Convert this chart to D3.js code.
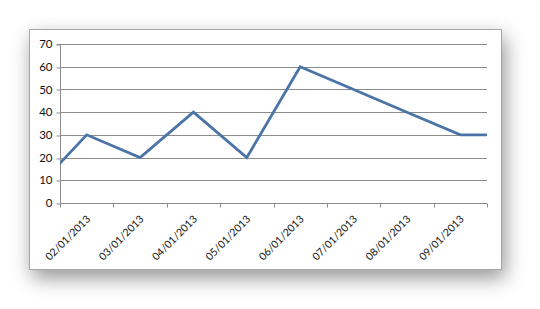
<!DOCTYPE html>
<html><head><meta charset="utf-8">
<script src="https://cdn.jsdelivr.net/npm/d3@7"></script>
<style>html,body{margin:0;padding:0;background:#fff;}svg{display:block;}</style>
</head><body>
<svg id="c" width="540" height="309"></svg>
<script>
// Data (monthly dates; first/last points lie just outside the plotted range and are clipped)
const dates = ["01/01/2013","02/01/2013","03/01/2013","04/01/2013","05/01/2013","06/01/2013","07/01/2013","08/01/2013","09/01/2013","10/01/2013"];
const values = [5, 30, 20, 40, 20, 60, 50, 40, 30, 30];
const tickLabels = ["02/01/2013","03/01/2013","04/01/2013","05/01/2013","06/01/2013","07/01/2013","08/01/2013","09/01/2013"];
const yTicks = [0,10,20,30,40,50,60,70];

const svg = d3.select("#c");
const box = {x:29.5, y:29.5, w:472, h:240};
const plot = {l:60, r:487, t:44, b:203};

const defs = svg.append("defs");
const f = defs.append("filter").attr("id","sh").attr("x","-20%").attr("y","-25%").attr("width","140%").attr("height","160%");
f.append("feDropShadow").attr("dx",3).attr("dy",8).attr("stdDeviation",10).attr("flood-color","#000").attr("flood-opacity",0.42);
defs.append("clipPath").attr("id","pc").append("rect")
  .attr("x",plot.l).attr("y",plot.t-5).attr("width",plot.r-plot.l).attr("height",plot.b-plot.t+10);

svg.append("rect").attr("x",box.x).attr("y",box.y).attr("width",box.w).attr("height",box.h)
  .attr("fill","#fff").attr("stroke","#a6a6a6").attr("stroke-width",1).attr("filter","url(#sh)");

const parse = d3.timeParse("%m/%d/%Y");
// month index: each label centred in its month slot
const idx = d => { const dt = parse(d); return (dt.getFullYear()-2013)*12 + dt.getMonth() - 1; };
const x = d3.scaleLinear().domain([-0.5, tickLabels.length-0.5]).range([plot.l, plot.r]);
const y = d3.scaleLinear().domain([0,70]).range([plot.b, plot.t]);
const FONT = "Lato, 'Open Sans', sans-serif";

// gridlines
svg.append("g").selectAll("line").data(yTicks.filter(v=>v>0)).join("line")
  .attr("x1",plot.l).attr("x2",plot.r)
  .attr("y1",d=>Math.round(y(d))+0.5).attr("y2",d=>Math.round(y(d))+0.5)
  .attr("stroke","#8c8c8c").attr("stroke-width",1);

// y axis
const ya = svg.append("g").attr("transform",`translate(${plot.l+0.5},0)`)
  .call(d3.axisLeft(y).tickValues(yTicks).tickSize(4).tickPadding(4).tickFormat(d3.format("d")));
ya.select(".domain").attr("stroke","#8c8c8c").attr("d",`M-4,${Math.round(y(70))+0.5}H0V${Math.round(y(0))+0.5}`);
ya.selectAll(".tick line").attr("stroke","#8c8c8c").attr("transform",d=>`translate(0,${Math.round(y(d))+0.5-y(d)})`);
ya.selectAll("text").attr("font-family",FONT).attr("font-size","11.5px").attr("fill","#111");

// x axis (ticks at slot boundaries)
const bounds = d3.range(tickLabels.length+1).map(i=>i-0.5);
const xa = svg.append("g").attr("transform",`translate(0,${Math.round(y(0))+0.5})`);
xa.append("line").attr("x1",plot.l).attr("x2",plot.r).attr("stroke","#8c8c8c");
xa.selectAll("line.t").data(bounds).join("line").attr("class","t")
  .attr("x1",d=>Math.round(x(d))+0.5).attr("x2",d=>Math.round(x(d))+0.5).attr("y1",0).attr("y2",4)
  .attr("stroke","#8c8c8c");
xa.selectAll("text").data(tickLabels).join("text")
  .attr("transform",(d,i)=>`translate(${x(i)-1},${11}) rotate(-45)`)
  .attr("text-anchor","end").attr("dy","0.71em")
  .attr("font-family",FONT).attr("font-size","10.5px").attr("fill","#111")
  .text(d=>d);

// line
const pts = dates.map((d,i)=>({x:idx(d), v:values[i]}));
svg.append("path").datum(pts).attr("clip-path","url(#pc)")
  .attr("d", d3.line().x(d=>x(d.x)).y(d=>y(d.v)))
  .attr("fill","none").attr("stroke","#4a74a8").attr("stroke-width",2.75).attr("stroke-linejoin","miter");
</script>
</body></html>
